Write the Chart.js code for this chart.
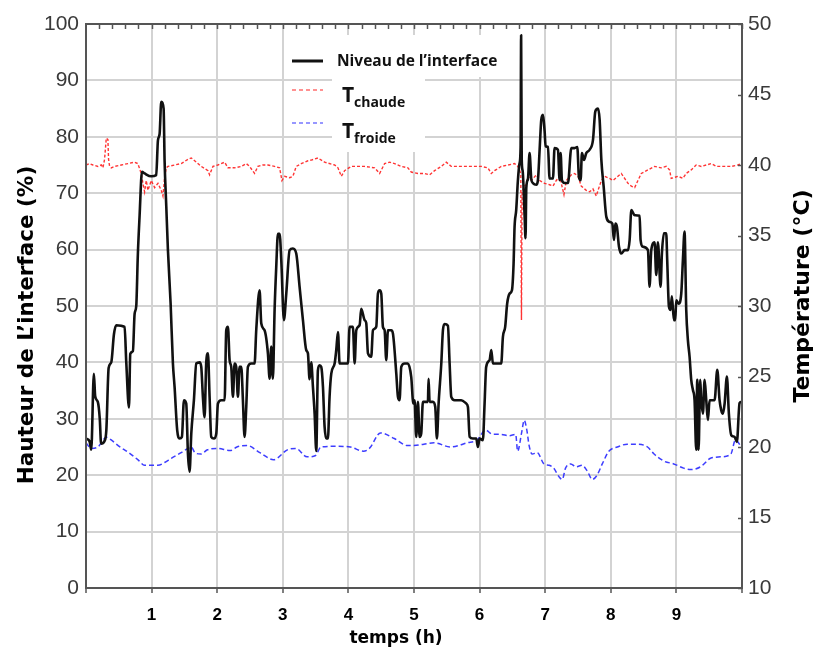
<!DOCTYPE html>
<html lang="fr">
<head>
<meta charset="utf-8">
<title>Niveau de l'interface et températures</title>
<script src="https://cdn.jsdelivr.net/npm/chart.js@4.4.1/dist/chart.umd.min.js"></script>
<style>
  html, body { margin: 0; padding: 0; background: #fff; }
  #wrap { width: 818px; height: 652px; }
</style>
</head>
<body>
<div id="wrap"><canvas id="chart" width="818" height="652"></canvas></div>
<script>
// Valeurs : [temps (h), valeur]
// niveau de l'interface en %, axe gauche
const niveau = [
  [0, 26.5], [0.055, 26], [0.08, 24.5], [0.12, 38], [0.14, 34], [0.18, 33], [0.21, 30], [0.23, 25.6],
  [0.28, 26], [0.31, 28], [0.345, 39], [0.385, 40], [0.426, 45], [0.46, 46.6], [0.588, 46.3], [0.614, 40],
  [0.655, 32], [0.675, 41.5], [0.715, 42], [0.741, 48.6], [0.766, 50], [0.79, 59], [0.817, 66], [0.853, 73.8],
  [0.893, 73.5], [0.995, 73], [1.07, 73.2], [1.097, 79.4], [1.122, 80.5], [1.147, 86.2], [1.183, 85], [1.198, 75.8],
  [1.224, 67.6], [1.249, 59.9], [1.29, 50.4], [1.325, 39.8], [1.35, 35.7], [1.39, 28], [1.427, 26.5], [1.462, 26.8],
  [1.493, 33.3], [1.528, 32.7], [1.554, 23.8], [1.579, 20.6], [1.605, 27.4], [1.645, 33.3], [1.681, 39.8], [1.732, 40],
  [1.757, 39.2], [1.782, 33.9], [1.808, 30.3], [1.833, 40], [1.859, 41.6], [1.884, 33.9], [1.909, 26.8], [1.95, 26.5],
  [1.986, 27.4], [2.011, 32.7], [2.062, 33.3], [2.113, 33.3], [2.138, 45.7], [2.164, 46.3], [2.189, 40.4], [2.214, 39.2],
  [2.24, 33.9], [2.265, 39.8], [2.29, 39.2], [2.316, 33.9], [2.341, 39.2], [2.367, 39.2], [2.392, 33.3], [2.417, 26.8],
  [2.443, 32.1], [2.468, 39.2], [2.519, 39.8], [2.57, 39.8], [2.595, 45.7], [2.646, 52.8], [2.672, 46.9], [2.722, 45.7],
  [2.773, 41.6], [2.799, 37.1], [2.824, 42.8], [2.849, 37.1], [2.875, 49.3], [2.9, 56.9], [2.926, 62.8], [2.951, 62.8],
  [2.977, 58.1], [3.017, 47.5], [3.053, 52.2], [3.104, 59.9], [3.154, 60.2], [3.205, 59.3], [3.256, 53.4], [3.307, 47.5],
  [3.357, 42.2], [3.383, 41.6], [3.408, 37], [3.434, 40], [3.459, 35.7], [3.485, 30.9], [3.51, 24.3], [3.535, 38.6],
  [3.561, 39.5], [3.586, 39.2], [3.612, 35.7], [3.637, 28.6], [3.663, 26.5], [3.688, 26.5], [3.713, 33.9], [3.739, 38],
  [3.79, 39.8], [3.815, 42.2], [3.841, 45.4], [3.866, 39.8], [3.917, 39.8], [3.993, 39.8], [4.018, 46.3], [4.069, 46.3],
  [4.095, 39.8], [4.12, 45.7], [4.171, 46.6], [4.196, 49.5], [4.247, 47.5], [4.272, 47], [4.298, 41.6], [4.348, 41],
  [4.374, 45.7], [4.425, 46.3], [4.45, 52.2], [4.476, 52.8], [4.501, 52.2], [4.526, 46.3], [4.552, 45.7], [4.577, 40.4],
  [4.603, 45.7], [4.653, 45.7], [4.679, 45.1], [4.73, 38], [4.755, 33.9], [4.78, 33.3], [4.806, 39.2], [4.857, 39.8],
  [4.907, 39.8], [4.958, 37.4], [4.99, 32.7], [5.009, 33.3], [5.034, 26.8], [5.06, 33], [5.085, 26.8], [5.11, 27.4],
  [5.136, 33], [5.212, 33], [5.222, 37.1], [5.238, 33], [5.288, 33], [5.324, 32.1], [5.349, 26.5], [5.375, 32.7],
  [5.416, 39.8], [5.441, 45.7], [5.467, 46.8], [5.517, 46.5], [5.543, 39.8], [5.568, 33.9], [5.619, 33.3], [5.72, 33.3],
  [5.797, 32.7], [5.822, 32.1], [5.848, 26.8], [5.898, 26.5], [5.949, 26.5], [5.974, 25], [6.0, 26.5], [6.05, 26.2],
  [6.076, 32.7], [6.1, 39.2], [6.152, 40.4], [6.178, 42.2], [6.203, 39.8], [6.33, 39.8], [6.355, 44.5], [6.39, 46.3],
  [6.42, 50.4], [6.457, 52.2], [6.493, 52.8], [6.518, 57.5], [6.533, 64], [6.558, 67], [6.584, 72.3], [6.609, 75.3],
  [6.625, 78.2], [6.633, 98], [6.642, 76], [6.656, 74], [6.686, 66], [6.7, 62], [6.712, 71], [6.737, 72.5],
  [6.762, 77.1], [6.788, 72.5], [6.813, 71.8], [6.864, 71.5], [6.889, 72.3], [6.915, 77.7], [6.94, 83], [6.966, 83.9],
  [6.991, 81], [7.006, 78.3], [7.042, 78.2], [7.067, 72.6], [7.118, 72.6], [7.143, 78], [7.194, 77.7], [7.22, 72.3],
  [7.235, 77.1], [7.255, 72.3], [7.296, 71.8], [7.347, 71.8], [7.398, 78], [7.449, 78], [7.489, 78.2], [7.514, 72.9],
  [7.54, 72.3], [7.56, 77.1], [7.591, 75.9], [7.626, 77.1], [7.677, 77.7], [7.728, 79.4], [7.764, 84.5], [7.805, 85],
  [7.83, 83], [7.856, 75.9], [7.891, 71.2], [7.932, 65.8], [7.982, 64.9], [8.023, 64.6], [8.049, 61.7], [8.069, 64.6],
  [8.094, 64], [8.125, 60.5], [8.16, 59.3], [8.211, 59.9], [8.262, 59.9], [8.287, 61.7], [8.313, 67], [8.364, 66.1],
  [8.439, 66], [8.454, 61.7], [8.49, 60.5], [8.566, 59.9], [8.591, 53.4], [8.617, 59.9], [8.667, 61.3], [8.693, 55.5],
  [8.718, 61.3], [8.759, 53.4], [8.779, 59.3], [8.81, 62.9], [8.845, 62.9], [8.86, 58.1], [8.886, 49.9], [8.911, 49.3],
  [8.931, 51.7], [8.962, 47.5], [8.982, 47.5], [8.998, 51], [9.033, 50.4], [9.074, 52.2], [9.099, 58.1], [9.124, 63.2],
  [9.15, 49.3], [9.175, 44], [9.201, 41], [9.226, 36.9], [9.252, 35.1], [9.277, 33.3], [9.302, 24.5], [9.318, 36.9],
  [9.338, 24.5], [9.363, 36.9], [9.379, 33.3], [9.404, 30.9], [9.43, 36.9], [9.455, 33.3], [9.48, 29.8], [9.506, 33.3],
  [9.582, 33.3], [9.623, 38.7], [9.658, 33.3], [9.684, 31.5], [9.709, 30.9], [9.735, 32.7], [9.77, 37.5], [9.8, 30.9],
  [9.836, 27.1], [9.887, 26.8], [9.922, 25.9], [9.963, 32.8], [9.988, 33]
];

// température chaude en °C, axe droit
const tChaude = [
  [0, 40], [0.055, 40.1], [0.106, 40], [0.182, 39.9], [0.233, 40], [0.258, 39.8], [0.283, 40.4], [0.309, 41.9],
  [0.334, 41.8], [0.344, 40.4], [0.36, 39.9], [0.385, 39.8], [0.436, 39.9], [0.538, 40], [0.639, 40.1], [0.741, 40.2],
  [0.79, 40.1], [0.842, 39.4], [0.868, 38.7], [0.893, 38.1], [0.919, 38.9], [0.944, 38.2], [0.995, 38.9], [1.046, 38.4],
  [1.097, 38.7], [1.147, 38.2], [1.173, 37.8], [1.198, 39.1], [1.224, 39.8], [1.249, 39.9], [1.35, 40], [1.452, 40.1],
  [1.554, 40.4], [1.605, 40.5], [1.656, 40.3], [1.757, 39.9], [1.859, 39.6], [1.884, 39.3], [1.935, 39.9], [2.011, 40],
  [2.113, 40.2], [2.164, 39.8], [2.265, 39.8], [2.367, 39.9], [2.443, 40.1], [2.494, 39.9], [2.57, 39.4], [2.62, 39.9],
  [2.697, 40], [2.773, 40], [2.875, 39.9], [2.951, 39.8], [2.987, 38.9], [3.028, 39.2], [3.104, 39.1], [3.154, 39.2],
  [3.205, 39.9], [3.281, 40.1], [3.383, 40.3], [3.434, 40.35], [3.535, 40.5], [3.637, 40.2], [3.79, 40], [3.841, 39.8],
  [3.892, 39.2], [3.942, 39.6], [4.044, 39.9], [4.145, 39.9], [4.247, 39.9], [4.399, 39.8], [4.476, 39.4], [4.552, 40.1],
  [4.628, 40.2], [4.704, 40.1], [4.806, 39.9], [4.907, 39.8], [4.958, 39.5], [5.06, 39.4], [5.162, 39.4], [5.238, 39.3],
  [5.314, 39.6], [5.416, 39.9], [5.492, 40.2], [5.568, 39.9], [5.72, 39.9], [5.873, 39.9], [6.025, 39.9], [6.127, 39.8],
  [6.178, 39.4], [6.228, 39.6], [6.33, 39.9], [6.432, 40], [6.533, 40.1], [6.584, 39.9], [6.612, 39.6], [6.628, 39.4],
  [6.638, 29], [6.648, 38], [6.676, 38.5], [6.712, 38.6], [6.737, 39.2], [6.788, 38.9], [6.864, 39.3], [6.915, 38.9],
  [6.991, 38.7], [7.067, 38.6], [7.118, 38.5], [7.169, 38.9], [7.22, 39.2], [7.271, 38.2], [7.286, 37.9], [7.322, 38.9],
  [7.398, 39.3], [7.449, 39.4], [7.5, 39.2], [7.55, 38.5], [7.626, 38.2], [7.677, 38.1], [7.728, 38.3], [7.779, 37.8],
  [7.805, 38.2], [7.856, 38.9], [7.906, 39.2], [7.982, 39.05], [8.033, 38.9], [8.109, 39.2], [8.16, 39.4], [8.211, 39.05],
  [8.262, 38.7], [8.313, 38.5], [8.364, 38.4], [8.414, 38.9], [8.465, 39.4], [8.566, 39.65], [8.667, 39.9], [8.769, 39.8],
  [8.845, 39.9], [8.896, 39.65], [8.921, 39.05], [9.023, 39.2], [9.099, 39.05], [9.15, 39.4], [9.226, 39.65], [9.302, 40],
  [9.379, 39.9], [9.531, 40.1], [9.607, 39.9], [9.684, 39.9], [9.836, 39.9], [9.937, 40], [9.988, 40.1]
];

// température froide en °C, axe droit
const tFroide = [
  [0, 20.3], [0.08, 19.9], [0.18, 20], [0.28, 20.6], [0.31, 20.7], [0.385, 20.5], [0.49, 20.1], [0.65, 19.6],
  [0.79, 19.1], [0.893, 18.7], [0.995, 18.7], [1.097, 18.7], [1.198, 18.9], [1.3, 19.2], [1.45, 19.6], [1.554, 19.9],
  [1.605, 20], [1.66, 19.6], [1.75, 19.5], [1.85, 19.8], [2.0, 19.9], [2.2, 19.75], [2.3, 20], [2.46, 20.1],
  [2.65, 19.6], [2.86, 19.1], [3.07, 19.8], [3.2, 19.9], [3.37, 19.3], [3.5, 19.4], [3.58, 20], [3.8, 20.05],
  [4.03, 20], [4.23, 19.7], [4.32, 19.9], [4.49, 21], [4.7, 20.6], [4.9, 20.1], [5.0, 20.1], [5.15, 20.2],
  [5.304, 20.3], [5.558, 20], [5.812, 20.3], [5.964, 20.5], [6.09, 21.2], [6.2, 20.9], [6.32, 20.9], [6.45, 20.8],
  [6.55, 20.9], [6.58, 19.7], [6.64, 21], [6.68, 21.9], [6.72, 21.2], [6.755, 20.1], [6.8, 19.5], [6.88, 19.6],
  [6.98, 18.8], [7.06, 18.7], [7.13, 18.5], [7.21, 17.9], [7.26, 17.7], [7.31, 18.5], [7.39, 18.8], [7.47, 18.6],
  [7.565, 18.7], [7.64, 18.3], [7.72, 17.7], [7.79, 18], [7.87, 18.8], [7.97, 19.7], [8.1, 20], [8.25, 20.2],
  [8.4, 20.2], [8.56, 20], [8.66, 19.5], [8.81, 19], [8.96, 18.8], [9.11, 18.5], [9.22, 18.4], [9.37, 18.6],
  [9.52, 19.2], [9.67, 19.3], [9.83, 19.5], [9.9, 20.5], [9.99, 20]
];

const heuresAffichees = [1, 2, 3, 4, 5, 6, 7, 8, 9];
const legendeNiveau = 'Niveau de l\u2019interface';
const titreGauche = 'Hauteur de L\u2019interface (%)';
const titreDroite = 'Température (°C)';
const titreX = 'temps (h)';

const toXY = arr => arr.map(([x, y]) => ({ x, y }));
const gridGrey = '#d3d3d3';
const axisGrey = '#555';

// cadre, titres d'axes, légende et petits repères (dessinés à la main)
const decor = {
  id: 'decor',
  beforeDatasetsDraw(chart) {
    const { ctx, chartArea: a } = chart;
    ctx.save();
    // fond blanc de la légende (masque la grille)
    ctx.fillStyle = '#fff';
    ctx.fillRect(a.left + 246, a.top + 11, 93, 117);
    ctx.fillRect(a.left + 339, a.top + 11, 78, 42);
    // échantillons
    const sx0 = a.left + 206, sx1 = a.left + 237;
    ctx.lineWidth = 3; ctx.strokeStyle = '#111';
    ctx.beginPath(); ctx.moveTo(sx0, a.top + 37); ctx.lineTo(sx1, a.top + 37); ctx.stroke();
    ctx.lineWidth = 1.5; ctx.setLineDash([4, 3]);
    ctx.strokeStyle = 'rgba(255,60,60,0.75)';
    ctx.beginPath(); ctx.moveTo(sx0, a.top + 66); ctx.lineTo(sx1, a.top + 66); ctx.stroke();
    ctx.strokeStyle = 'rgba(70,70,255,0.75)';
    ctx.beginPath(); ctx.moveTo(sx0, a.top + 99); ctx.lineTo(sx1, a.top + 99); ctx.stroke();
    ctx.setLineDash([]);
    // textes
    ctx.fillStyle = '#111';
    ctx.textBaseline = 'alphabetic'; ctx.textAlign = 'left';
    ctx.font = 'bold 15.5px "Open Sans"';
    ctx.fillText(legendeNiveau, a.left + 251, a.top + 42);
    ctx.font = 'bold 21px "Open Sans"';
    ctx.fillText('T', a.left + 256, a.top + 78);
    ctx.fillText('T', a.left + 256, a.top + 114);
    ctx.font = 'bold 14px "Open Sans"';
    ctx.fillText('chaude', a.left + 268, a.top + 83);
    ctx.fillText('froide', a.left + 268, a.top + 119);
    ctx.restore();
  },
  afterDraw(chart) {
    const { ctx, chartArea: a, scales } = chart;
    ctx.save();
    // petits repères en haut tous les 0,2 h
    ctx.strokeStyle = axisGrey; ctx.lineWidth = 1.5;
    for (let v = 0.2; v < 10; v += 0.2) {
      const px = Math.round(scales.x.getPixelForValue(v)) + 0.5;
      ctx.beginPath(); ctx.moveTo(px, a.top); ctx.lineTo(px, a.top + 5); ctx.stroke();
    }
    // repères intérieurs de l'axe droit
    scales.y2.ticks.forEach(t => {
      const py = Math.round(scales.y2.getPixelForValue(t.value)) + 0.5;
      ctx.beginPath(); ctx.moveTo(a.right - 4, py); ctx.lineTo(a.right, py); ctx.stroke();
    });
    // cadre
    ctx.lineWidth = 2; ctx.strokeStyle = axisGrey;
    ctx.strokeRect(a.left, a.top, a.right - a.left, a.bottom - a.top);
    // titres des axes
    ctx.fillStyle = '#000';
    ctx.textAlign = 'center'; ctx.textBaseline = 'middle';
    ctx.font = 'bold 21.5px "DejaVu Sans"';
    ctx.save(); ctx.translate(27, 325); ctx.rotate(-Math.PI / 2); ctx.fillText(titreGauche, 0, 0); ctx.restore();
    ctx.font = 'bold 22px "DejaVu Sans"';
    ctx.save(); ctx.translate(803, 296); ctx.rotate(-Math.PI / 2); ctx.fillText(titreDroite, 0, 0); ctx.restore();
    ctx.font = 'bold 17px "DejaVu Sans"';
    ctx.fillText(titreX, 396, 639);
    ctx.restore();
  }
};

new Chart(document.getElementById('chart'), {
  type: 'line',
  data: {
    datasets: [
      { label: 'Niveau', data: toXY(niveau), yAxisID: 'y', borderColor: '#111', borderWidth: 2.6,
        pointRadius: 0, cubicInterpolationMode: 'monotone', borderJoinStyle: 'round', borderCapStyle: 'round' },
      { label: 'Tchaude', data: toXY(tChaude), yAxisID: 'y2', borderColor: 'rgba(255,30,30,0.9)', borderWidth: 1.4,
        borderDash: [3, 2], pointRadius: 0, tension: 0 },
      { label: 'Tfroide', data: toXY(tFroide), yAxisID: 'y2', borderColor: 'rgba(40,40,255,0.9)', borderWidth: 1.5,
        borderDash: [5, 3], pointRadius: 0, cubicInterpolationMode: 'monotone' }
    ]
  },
  options: {
    responsive: false,
    animation: false,
    devicePixelRatio: 1,
    layout: { padding: { top: 24, left: 0, right: 0, bottom: 0 } },
    plugins: { legend: { display: false }, tooltip: { enabled: false } },
    scales: {
      x: {
        type: 'linear', min: 0, max: 10,
        afterFit: s => { s.height = 64; },
        afterBuildTicks: s => { s.ticks = [0].concat(heuresAffichees, [10]).map(v => ({ value: v })); },
        grid: { color: gridGrey, lineWidth: 2, tickLength: 5, tickColor: axisGrey, tickWidth: 1.5 },
        border: { display: false },
        ticks: {
          autoSkip: false, maxRotation: 0, padding: 12, color: '#000',
          font: { family: '"Liberation Sans"', size: 17, weight: 'bold' },
          callback: v => heuresAffichees.includes(v) ? String(v) : ''
        }
      },
      y: {
        position: 'left', min: 0, max: 100,
        afterFit: s => { s.width = 86; },
        grid: { color: gridGrey, lineWidth: 2, tickLength: 0 },
        border: { display: false },
        ticks: { stepSize: 10, padding: 7, color: '#3a3a3a', font: { family: '"Liberation Sans"', size: 21 } }
      },
      y2: {
        position: 'right', min: 10, max: 50,
        afterFit: s => { s.width = 76; },
        grid: { drawOnChartArea: false, tickLength: 0 },
        border: { display: false },
        ticks: { stepSize: 5, padding: 6, color: '#3a3a3a', font: { family: '"Liberation Sans"', size: 21 } }
      }
    }
  },
  plugins: [decor]
});
</script>
</body>
</html>
